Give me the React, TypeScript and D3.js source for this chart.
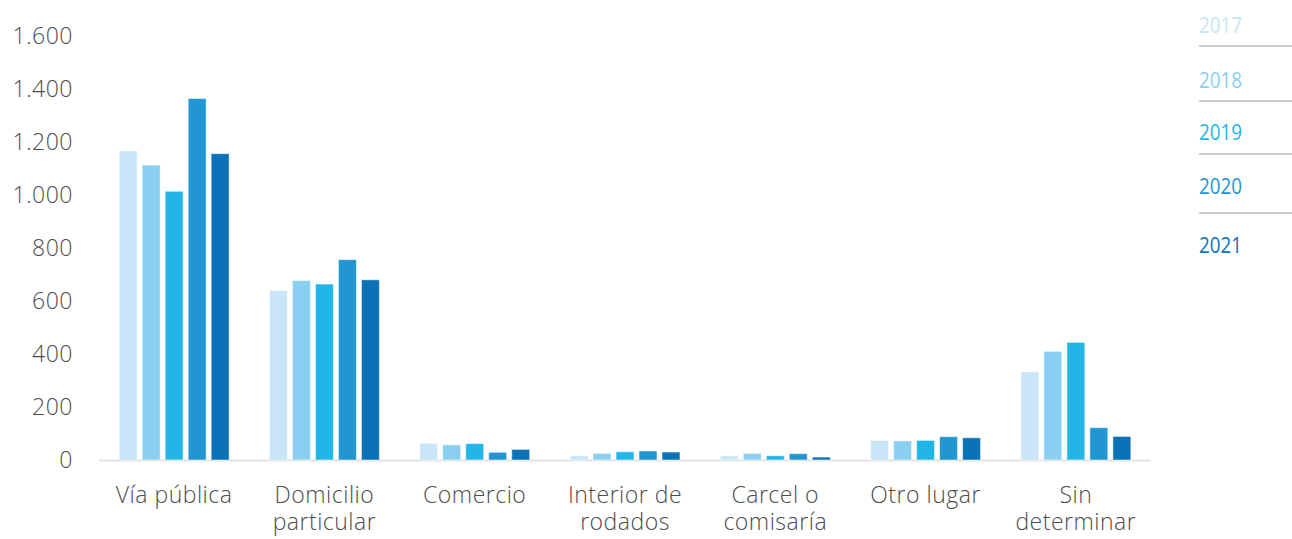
import React, { useEffect } from "react";
import * as d3 from "d3";

const categories = [
  ["Vía pública"],
  ["Domicilio", "particular"],
  ["Comercio"],
  ["Interior de", "rodados"],
  ["Carcel o", "comisaría"],
  ["Otro lugar"],
  ["Sin", "determinar"],
];
const years = ["2017", "2018", "2019", "2020", "2021"];
const v2017 = [1167, 640, 63, 16, 15, 74, 333];
const v2018 = [1113, 677, 57, 25, 25, 72, 410];
const v2019 = [1014, 664, 62, 31, 16, 74, 444];
const v2020 = [1364, 756, 29, 34, 24, 88, 122];
const v2021 = [1156, 680, 40, 30, 11, 84, 89];
const yTicks = [0, 200, 400, 600, 800, 1000, 1200, 1400, 1600];
const colors = ["#c8e6f7", "#88cff1", "#22b6e8", "#2196d3", "#0b72b7"];

const series = [v2017, v2018, v2019, v2020, v2021];
const W = 1292;
const H = 539;
const FONT = "'Open Sans', 'Noto Sans', sans-serif";

export default function App() {
  useEffect(() => {
    document.body.style.margin = "0";
  }, []);
  const x0 = d3
    .scaleBand<number>()
    .domain(categories.map((_, i) => i))
    .range([99, 1151])
    .padding(0);
  const x1 = d3
    .scaleBand<string>()
    .domain(years)
    .range([0, x0.bandwidth()])
    .paddingInner(0.22)
    .paddingOuter(0.877);
  const y = d3.scaleLinear().domain([0, 1600]).range([460, 36]);
  const fmt = (v: number) => d3.format(",")(v).replace(/,/g, ".");
  const legendY = [25, 80, 132, 186, 245];
  const legendLines = [46, 101, 154, 213];

  return (
    <svg width={W} height={H} style={{ display: "block" }} fontFamily={FONT}>
      {yTicks.map((t) => (
        <text
          key={t}
          x={73}
          y={y(t)}
          dy="0.36em"
          textAnchor="end"
          fontSize={23}
          fontWeight={300}
          letterSpacing={0.5}
          fill="#4d4d4d"
        >
          {fmt(t)}
        </text>
      ))}
      <line x1={99} x2={1151} y1={460.5} y2={460.5} stroke="#e3e3e3" strokeWidth={2} />
      {categories.map((_, ci) => (
        <g key={ci} transform={`translate(${x0(ci)},0)`}>
          {series.map((s, si) => (
            <rect
              key={si}
              x={x1(years[si])}
              y={y(s[ci])}
              width={x1.bandwidth()}
              height={y(0) - y(s[ci])}
              fill={colors[si]}
              stroke="#ffffff"
              strokeOpacity={0.5}
              strokeWidth={1}
            />
          ))}
        </g>
      ))}
      {categories.map((lines, ci) => (
        <text
          key={ci}
          x={(x0(ci) as number) + x0.bandwidth() / 2}
          y={503}
          textAnchor="middle"
          fontSize={23}
          fontWeight={300}
          letterSpacing={0.5}
          fill="#4d4d4d"
        >
          {lines.map((l, li) => (
            <tspan key={li} x={(x0(ci) as number) + x0.bandwidth() / 2} dy={li === 0 ? 0 : 27}>
              {l}
            </tspan>
          ))}
        </text>
      ))}
      {years.map((yr, i) => (
        <text
          key={yr}
          x={1199}
          y={legendY[i]}
          dy="0.36em"
          fontSize={22}
          fontWeight={400}
          textLength={43}
          lengthAdjust="spacingAndGlyphs"
          fill={colors[i]}
        >
          {yr}
        </text>
      ))}
      {legendLines.map((ly, i) => (
        <line key={i} x1={1199} x2={1292} y1={ly} y2={ly} stroke="#bdbdbd" strokeWidth={1.5} />
      ))}
    </svg>
  );
}
